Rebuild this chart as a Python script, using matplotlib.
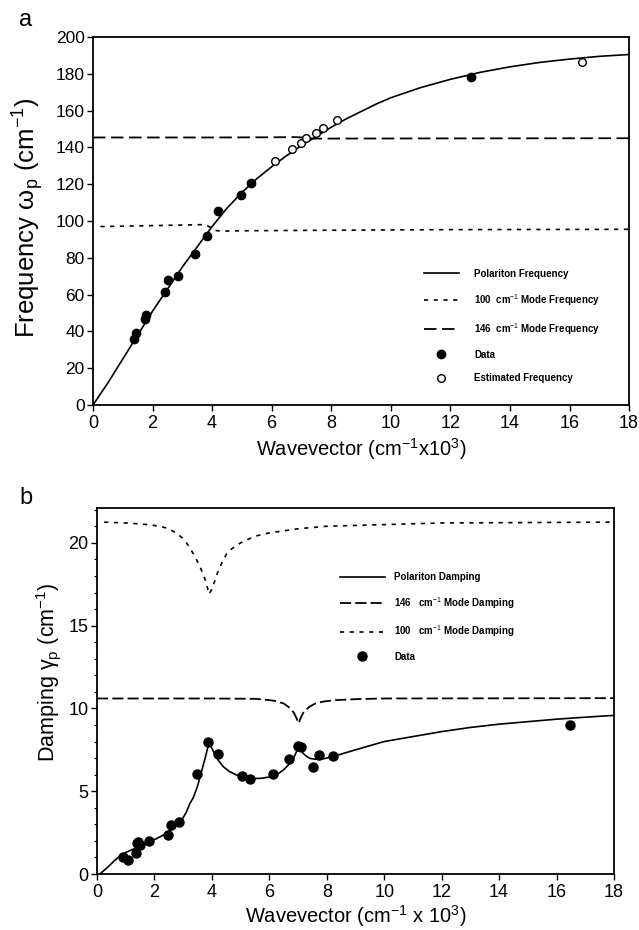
import matplotlib
matplotlib.use("Agg")
import matplotlib.pyplot as plt
from matplotlib.ticker import MultipleLocator

plt.rcParams['font.family'] = ['Liberation Sans', 'DejaVu Sans']
plt.rcParams['mathtext.fontset'] = 'custom'
plt.rcParams['mathtext.rm'] = 'Liberation Sans'
plt.rcParams['mathtext.it'] = 'Liberation Sans'
plt.rcParams['lines.scale_dashes'] = False

# ---------------- panel a data ----------------
pol_freq_x = [0, 0.5, 1, 1.5, 2, 2.5, 3, 3.5, 4, 4.5, 5, 5.5, 6, 6.5, 7, 7.5, 8, 8.5, 9, 9.5, 10, 11, 12, 13, 14, 15, 16, 17, 18]
pol_freq_y = [0, 12, 25, 38, 51, 63, 75, 86, 97, 107, 115.5, 123, 129.5, 135.5, 141, 146, 151, 155.5, 159.5, 163.5, 167, 172.5, 177, 180.8, 183.8, 186.2, 188, 189.5, 190.5]

mode100_freq_x = [0.25, 1, 2, 3, 3.6, 3.8, 3.95, 4.1, 4.3, 5, 8, 12, 18]
mode100_freq_y = [97, 97.2, 97.5, 97.8, 98, 97.8, 96.5, 94.9, 94.5, 94.7, 95.0, 95.3, 95.5]

mode146_freq_x = [0, 2, 4, 6, 6.8, 7.0, 7.2, 7.4, 8, 12, 18]
mode146_freq_y = [145.4, 145.4, 145.4, 145.5, 145.6, 145.4, 145.0, 144.8, 144.8, 144.9, 145.0]

data_freq_x = [1.37, 1.46, 1.76, 1.79, 2.43, 2.51, 2.84, 3.43, 3.82, 4.19, 4.97, 5.29, 12.7]
data_freq_y = [35.7, 39.3, 47, 49, 61.6, 68, 70, 82, 91.6, 105.7, 114, 120.6, 178]

est_freq_x = [6.11, 6.68, 6.99, 7.14, 7.49, 7.73, 8.2, 16.43]
est_freq_y = [132.5, 139, 142.5, 145, 148, 150.3, 154.7, 186.2]

# ---------------- panel b data ----------------
pol_damp_x = [0.1, 0.3, 0.45, 0.6, 0.8, 1.0, 1.26, 1.5, 1.85, 2.2, 2.42, 2.7, 2.95, 3.1, 3.24, 3.35, 3.5, 3.64, 3.78, 3.9,
              4.0, 4.11, 4.25, 4.4, 4.6, 4.86, 5.1, 5.33, 5.7, 6.02, 6.3, 6.49, 6.7, 6.84, 6.95, 7.02,
              7.1, 7.18, 7.3, 7.42, 7.6, 7.76, 8.0, 8.23, 9, 10, 11, 12, 13, 14, 15, 16, 17, 18]
pol_damp_y = [0.0, 0.3, 0.54, 0.8, 1.08, 1.3, 1.5, 1.7, 1.95, 2.25, 2.46, 2.85, 3.26, 3.7, 4.27, 4.6, 5.3, 6.2, 7.1, 7.95,
              7.6, 7.19, 6.8, 6.48, 6.2, 5.98, 5.84, 5.76, 5.78, 5.86, 6.05, 6.28, 6.65, 6.98, 7.4, 7.8,
              7.5, 7.28, 7.1, 6.98, 6.93, 6.92, 7.0, 7.1, 7.5, 8.0, 8.3, 8.6, 8.85, 9.05, 9.2, 9.35, 9.47, 9.58]

mode146_damp_x = [0, 2, 4, 5.5, 6.0, 6.2, 6.5, 6.7, 6.85, 6.95, 7.02, 7.1, 7.2, 7.4, 7.6, 7.9, 8.3, 9, 10, 18]
mode146_damp_y = [10.6, 10.6, 10.6, 10.58, 10.5, 10.45, 10.3, 10.05, 9.75, 9.4, 9.1, 9.45, 9.8, 10.1, 10.3, 10.42, 10.5, 10.56, 10.6, 10.62]

mode100_damp_x = [0.25, 1, 1.8, 2.2, 2.5, 2.8, 3.0, 3.2, 3.4, 3.55, 3.7, 3.8, 3.9, 4.0, 4.1, 4.2, 4.35, 4.5, 4.7, 5.0, 5.5, 6, 7, 8, 10, 12, 18]
mode100_damp_y = [21.25, 21.2, 21.1, 21.0, 20.85, 20.55, 20.25, 19.8, 19.2, 18.7, 18.1, 17.6, 16.9, 17.2, 17.7, 18.2, 18.8, 19.3, 19.65, 20.0, 20.4, 20.6, 20.85, 21.0, 21.1, 21.2, 21.25]

data_damp_x = [0.92, 1.07, 1.36, 1.38, 1.44, 1.5, 1.82, 2.46, 2.56, 2.87, 3.49, 3.85, 4.2, 5.04, 5.33, 6.14, 6.7, 7.01, 7.12, 7.53, 7.74, 8.23, 16.47]
data_damp_y = [1.0, 0.85, 1.29, 1.85, 1.95, 1.75, 1.97, 2.37, 2.93, 3.16, 6.05, 7.96, 7.27, 5.92, 5.72, 6.02, 6.93, 7.73, 7.69, 6.44, 7.17, 7.13, 8.97]

xticks = list(range(0, 19, 2))

dot_style = (0, (3, 4))
dash_style_a = (0, (9, 4))
dash_style_b = (0, (8, 3))

fig = plt.figure(figsize=(6.39, 9.30), dpi=100)

# ---------------- panel a ----------------
ax1 = fig.add_axes([0.1455, 0.5645, 0.839, 0.3957])
ax1.plot(pol_freq_x, pol_freq_y, color='black', lw=1.2, label='Polariton Frequency')
ax1.plot(mode100_freq_x, mode100_freq_y, color='black', lw=1.2, linestyle=dot_style,
         label='100  cm$^{-1}$ Mode Frequency')
ax1.plot(mode146_freq_x, mode146_freq_y, color='black', lw=1.3, linestyle=dash_style_a,
         label='146  cm$^{-1}$ Mode Frequency')
ax1.plot(data_freq_x, data_freq_y, 'o', color='black', ms=6, ls='none', label='Data')
ax1.plot(est_freq_x, est_freq_y, 'o', mfc='white', mec='black', mew=1.0, ms=5.5, ls='none',
         label='Estimated Frequency')
ax1.set_xlim(0, 18)
ax1.set_ylim(0, 200)
ax1.set_xticks(xticks)
ax1.yaxis.set_major_locator(MultipleLocator(20))
ax1.tick_params(axis='x', labelsize=13, direction='out', length=4, width=1)
ax1.tick_params(axis='y', labelsize=12.5, direction='out', length=4, width=1, pad=2)
for s in ax1.spines.values():
    s.set_linewidth(1.3)
ax1.set_xlabel('Wavevector (cm$^{-1}$x10$^{3}$)', fontsize=14.5)
ax1.xaxis.set_label_coords(0.5, -0.085)
ax1.set_ylabel('Frequency \u03c9$_{\\mathrm{p}}$ (cm$^{-1}$)', fontsize=18.5)
ax1.yaxis.set_label_coords(-0.088, 0.51)
leg1 = ax1.legend(loc='upper left', bbox_to_anchor=(0.617, 0.37), frameon=False,
                  prop={'size': 7, 'weight': 'bold'}, handlelength=3.6, handletextpad=1.6,
                  labelspacing=1.35, borderpad=0, borderaxespad=0)
fig.text(0.03, 0.978, 'a', fontsize=17, va='center', ha='left')

# ---------------- panel b ----------------
ax2 = fig.add_axes([0.1518, 0.0602, 0.809, 0.3935])
ax2.plot(pol_damp_x, pol_damp_y, color='black', lw=1.2, label='Polariton Damping')
ax2.plot(mode146_damp_x, mode146_damp_y, color='black', lw=1.3, linestyle=dash_style_b,
         label='146   cm$^{-1}$ Mode Damping')
ax2.plot(mode100_damp_x, mode100_damp_y, color='black', lw=1.2, linestyle=dot_style,
         label='100   cm$^{-1}$ Mode Damping')
ax2.plot(data_damp_x, data_damp_y, 'o', color='black', ms=6.5, ls='none', label='Data')
ax2.set_xlim(0, 18)
ax2.set_ylim(0, 22.1)
ax2.set_xticks(xticks)
ax2.yaxis.set_major_locator(MultipleLocator(5))
ax2.yaxis.set_minor_locator(MultipleLocator(1))
ax2.tick_params(axis='x', labelsize=13, direction='out', length=4, width=1)
ax2.tick_params(axis='y', labelsize=13, direction='out', length=4, width=1, pad=2)
ax2.tick_params(axis='y', which='minor', direction='out', length=2, width=0.8)
for s in ax2.spines.values():
    s.set_linewidth(1.3)
ax2.set_xlabel('Wavevector (cm$^{-1}$ x 10$^{3}$)', fontsize=14.5)
ax2.xaxis.set_label_coords(0.5, -0.08)
ax2.set_ylabel('Damping \u03b3$_{\\mathrm{p}}$ (cm$^{-1}$)', fontsize=15.5)
ax2.yaxis.set_label_coords(-0.065, 0.55)
leg2 = ax2.legend(loc='upper left', bbox_to_anchor=(0.47, 0.825), frameon=False,
                  prop={'size': 7, 'weight': 'bold'}, handlelength=4.6, handletextpad=1.0,
                  labelspacing=1.3, borderpad=0, borderaxespad=0)
fig.text(0.03, 0.465, 'b', fontsize=17, va='center', ha='left')

fig.savefig('out.png', dpi=100)
